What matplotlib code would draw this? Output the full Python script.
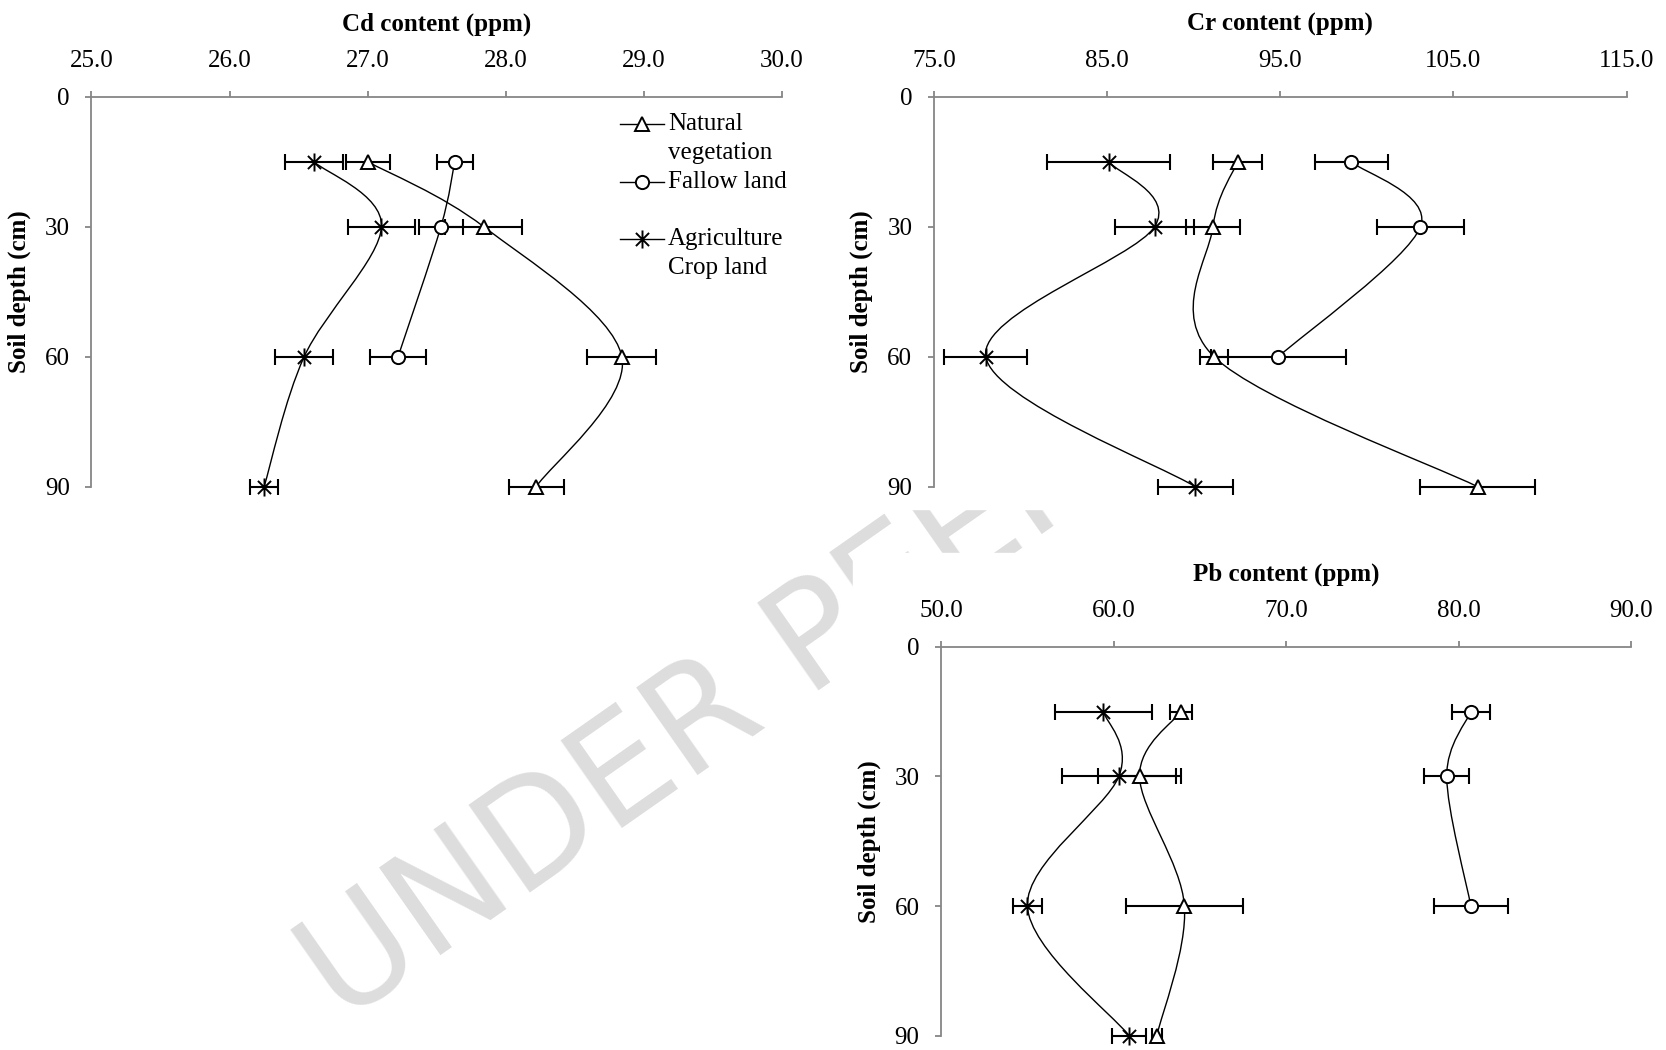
import numpy as np
import matplotlib
matplotlib.use("Agg")
from matplotlib import pyplot as plt
from matplotlib.path import Path
from matplotlib.patches import PathPatch, Rectangle
from matplotlib.lines import Line2D

plt.rcParams['font.family'] = ['Liberation Serif', 'DejaVu Serif']
plt.rcParams['font.size'] = 18

# soil depths (cm)
depth = [15, 30, 60, 90]
depth_fallow = [15, 30, 60]

# Cd content (ppm)
cd_natural = [27.0, 27.84, 28.84, 28.22]
cd_natural_err = [0.16, 0.28, 0.25, 0.2]
cd_fallow = [27.63, 27.53, 27.22]
cd_fallow_err = [0.13, 0.16, 0.2]
cd_agri = [26.61, 27.10, 26.54, 26.25]
cd_agri_err = [0.21, 0.24, 0.21, 0.1]

# Cr content (ppm)
cr_natural = [92.55, 91.12, 91.18, 106.4]
cr_natural_err = [1.4, 1.55, 0.8, 3.3]
cr_fallow = [99.1, 103.1, 94.9]
cr_fallow_err = [2.1, 2.5, 3.9]
cr_agri = [85.1, 87.75, 78.0, 90.1]
cr_agri_err = [3.55, 2.3, 2.4, 2.15]

# Pb content (ppm)
pb_natural = [63.9, 61.5, 64.1, 62.5]
pb_natural_err = [0.65, 2.4, 3.4, 0.3]
pb_fallow = [80.7, 79.3, 80.7]
pb_fallow_err = [1.1, 1.3, 2.15]
pb_agri = [59.4, 60.3, 55.0, 60.9]
pb_agri_err = [2.8, 3.3, 0.85, 1.0]

legend_labels = ["Natural\nvegetation", "Fallow land", "Agriculture\nCrop land"]

GREY = '#868686'

# asterisk marker like the Excel "star"
STAR = Path([(-0.8, -0.8), (0.8, 0.8), (-0.8, 0.8), (0.8, -0.8), (0, -1.1), (0, 1.1)],
            [Path.MOVETO, Path.LINETO, Path.MOVETO, Path.LINETO, Path.MOVETO, Path.LINETO])

MARKERS = [('^', 10), ('o', 9.5), (STAR, 13)]


def smooth_path(x, y):
    # Excel style smoothed line: Catmull-Rom segments as cubic beziers
    pts = np.column_stack([x, y]).astype(float)
    n = len(pts)
    verts = [pts[0]]
    codes = [Path.MOVETO]
    for i in range(n - 1):
        p0 = pts[max(i - 1, 0)]
        p1 = pts[i]
        p2 = pts[i + 1]
        p3 = pts[min(i + 2, n - 1)]
        verts += [p1 + (p2 - p0) / 6, p2 - (p3 - p1) / 6, p2]
        codes += [Path.CURVE4] * 3
    return Path(verts, codes)


def draw_series(ax, x, d, err, marker, ms):
    eb = ax.errorbar(x, d, xerr=err, fmt='none', ecolor='black', elinewidth=1.5,
                     capsize=6, capthick=1.5, zorder=2)
    for a in list(eb.lines[1]) + list(eb.lines[2]):
        a.set_clip_on(False)
    ax.add_patch(PathPatch(smooth_path(x, d), fill=False, lw=1.0, ec='black',
                           zorder=2.5, clip_on=False))
    ax.plot(x, d, ls='none', marker=marker, ms=ms, mfc='white', mec='black',
            mew=1.4, zorder=3, clip_on=False)


def draw_panel(fig, rect, title, xlim, step, natural, natural_err, fallow, fallow_err,
               agri, agri_err):
    ax = fig.add_axes(rect)
    ax.set_facecolor('none')
    ax.set_xlim(*xlim)
    ax.set_ylim(90, 0)
    ax.set_xticks(np.arange(xlim[0], xlim[1] + step / 2, step))
    ax.set_yticks([0, 30, 60, 90])
    ax.xaxis.set_major_formatter(matplotlib.ticker.FormatStrFormatter('%.1f'))
    ax.xaxis.tick_top()
    ax.xaxis.set_label_position('top')
    for s in ['right', 'bottom']:
        ax.spines[s].set_visible(False)
    for s in ['top', 'left']:
        ax.spines[s].set_color(GREY)
        ax.spines[s].set_linewidth(1.3)
    ax.tick_params(axis='x', direction='out', length=4.5, width=1.3, color=GREY, pad=13)
    ax.tick_params(axis='y', direction='out', length=4.5, width=1.3, color=GREY, pad=11)
    ax.set_xlabel(title, fontweight='bold', labelpad=14)
    ax.set_ylabel("Soil depth (cm)", fontweight='bold', labelpad=10)

    draw_series(ax, natural, depth, natural_err, *MARKERS[0])
    draw_series(ax, fallow, depth_fallow, fallow_err, *MARKERS[1])
    draw_series(ax, agri, depth, agri_err, *MARKERS[2])
    return ax


fig = plt.figure(figsize=(16.66, 10.5), dpi=100)

# watermark, partly hidden by the right hand charts
fig.text(0.205, 0.024, "UNDER PEER REVIEW", rotation=35, rotation_mode='anchor',
         ha='left', va='baseline', fontsize=105, color='#dddddd', zorder=-2,
         family=['Liberation Sans Narrow', 'DejaVu Sans'])
fig.add_artist(Rectangle((853 / 1666, 1 - 509 / 1050), 1, 1, transform=fig.transFigure,
                         color='white', zorder=-1))
fig.add_artist(Rectangle((853 / 1666, 0), 1, 1 - 553 / 1050, transform=fig.transFigure,
                         color='white', zorder=-1))

ax_cd = draw_panel(fig, [0.0549, 0.5365, 0.4145, 0.3714], "Cd content (ppm)", (25, 30), 1.0,
                   cd_natural, cd_natural_err, cd_fallow, cd_fallow_err, cd_agri, cd_agri_err)
draw_panel(fig, [0.5605, 0.5365, 0.4158, 0.3714], "Cr content (ppm)", (75, 115), 10.0,
           cr_natural, cr_natural_err, cr_fallow, cr_fallow_err, cr_agri, cr_agri_err)
draw_panel(fig, [0.5649, 0.01362, 0.4143, 0.3705], "Pb content (ppm)", (50, 90), 10.0,
           pb_natural, pb_natural_err, pb_fallow, pb_fallow_err, pb_agri, pb_agri_err)

# legend drawn by hand so the marker sits on the first text line
legend_y = [0.930, 0.781, 0.635]
line_h = 0.074
for (m, ms), label, y in zip(MARKERS, legend_labels, legend_y):
    ax_cd.add_line(Line2D([0.7654, 0.829], [y, y], color='black', lw=1.0,
                          transform=ax_cd.transAxes, clip_on=False))
    ax_cd.add_line(Line2D([0.797], [y], marker=m, ms=ms, mfc='white', mec='black', mew=1.4,
                          transform=ax_cd.transAxes, clip_on=False))
    for i, part in enumerate(label.split('\n')):
        ax_cd.text(0.835, y - i * line_h, part, transform=ax_cd.transAxes,
                   ha='left', va='center')

fig.savefig("out.png", dpi=100)
